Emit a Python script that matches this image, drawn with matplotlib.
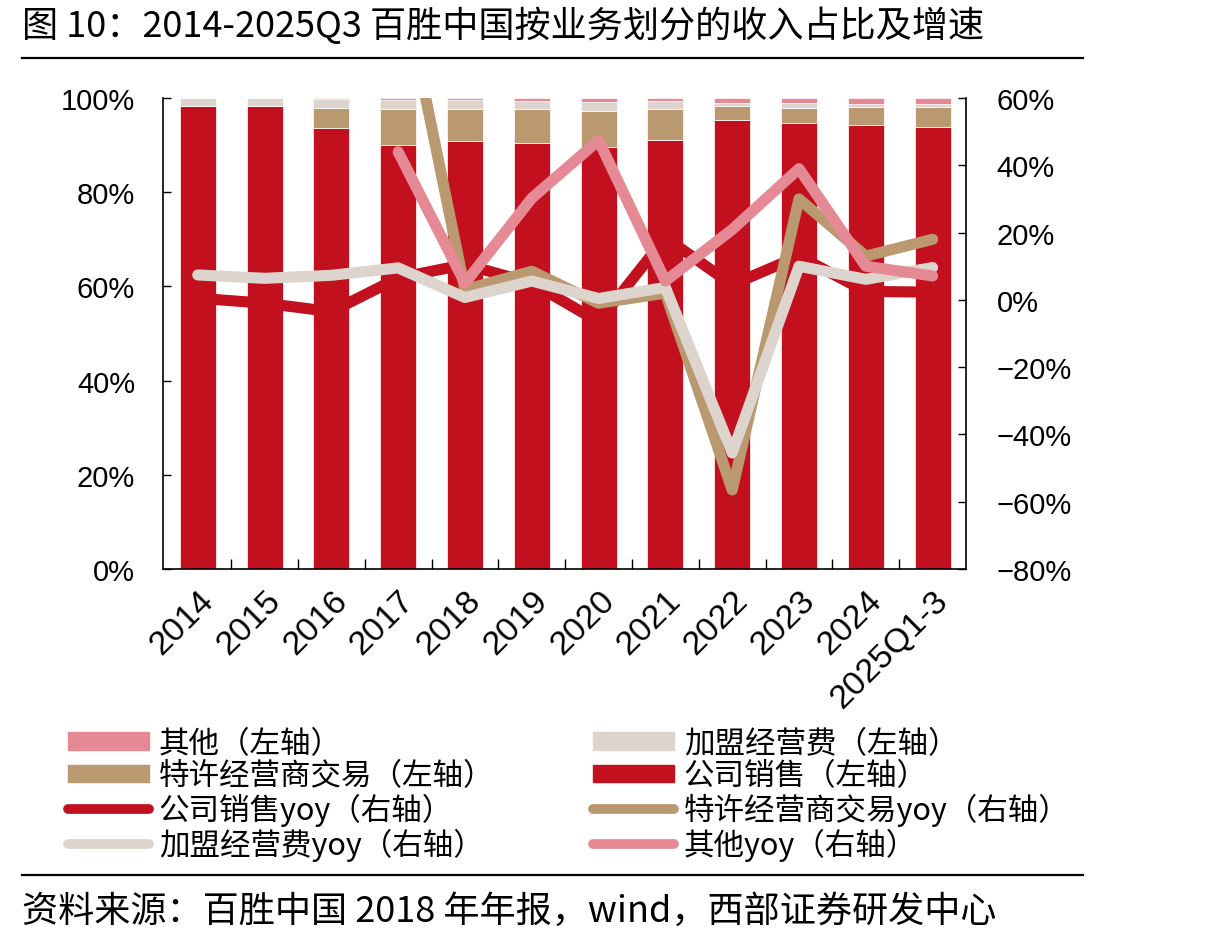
import matplotlib
matplotlib.use("Agg")
import matplotlib.pyplot as plt
from matplotlib.patches import Patch
from matplotlib.lines import Line2D
import numpy as np

plt.rcParams['font.family'] = ['Noto Sans CJK SC', 'DejaVu Sans']

# ---------------- data ----------------
categories = ["2014", "2015", "2016", "2017", "2018", "2019", "2020",
              "2021", "2022", "2023", "2024", "2025Q1-3"]

# revenue share (%), left axis
company_sales = [98.4, 98.2, 93.6, 90.0, 90.8, 90.4, 89.5, 91.0, 95.3, 94.6, 94.2, 93.8]
franchise_trade = [0.0, 0.0, 4.2, 7.6, 6.9, 7.3, 7.7, 6.6, 2.9, 3.3, 3.8, 4.2]
franchise_fee = [1.6, 1.8, 1.9, 2.0, 1.9, 1.7, 1.9, 1.7, 0.8, 1.0, 0.8, 0.8]
other = [0.0, 0.0, 0.3, 0.4, 0.4, 0.6, 0.9, 0.7, 1.0, 1.1, 1.2, 1.2]

# yoy growth (%), right axis
company_sales_yoy = [0.5, -1.0, -3.5, 6.5, 10.5, 5.0, -6.5, 18.5, 4.5, 13.0, 2.5, 2.3]
franchise_trade_yoy = [np.nan, np.nan, np.nan, 100.0, 3.0, 8.5, -1.0, 2.0, -56.5, 30.0, 13.0, 18.0]
franchise_fee_yoy = [7.4, 6.4, 7.3, 9.5, 0.7, 5.6, 0.4, 3.7, -45.5, 10.0, 6.1, 9.6]
other_yoy = [np.nan, np.nan, np.nan, 44.0, 5.0, 30.2, 47.4, 5.6, 20.9, 39.0, 10.0, 7.1]

left_ticks = [0, 20, 40, 60, 80, 100]
right_ticks = [-80, -60, -40, -20, 0, 20, 40, 60]

title = "图 10：2014-2025Q3 百胜中国按业务划分的收入占比及增速"
source = "资料来源：百胜中国 2018 年年报，wind，西部证券研发中心"

C_RED = "#C3101E"
C_TAN = "#BA9870"
C_BEIGE = "#DCD4CD"
C_PINK = "#E58A94"

# ---------------- figure ----------------
fig = plt.figure(figsize=(12.26, 9.45), dpi=100)
W, H = 1226, 945
ax = fig.add_axes([163 / W, 1 - 570 / H, (966 - 163) / W, (570 - 99) / H])

x = np.arange(len(categories))
bw = 0.54
cs = np.array(company_sales)
ft = np.array(franchise_trade)
ff = np.array(franchise_fee)
ot = np.array(other)
ax.bar(x, cs, bw, color=C_RED, edgecolor="white", linewidth=0.5, zorder=2)
ax.bar(x, ft, bw, bottom=cs, color=C_TAN, edgecolor="white", linewidth=0.5, zorder=2)
ax.bar(x, ff, bw, bottom=cs + ft, color=C_BEIGE, edgecolor="white", linewidth=0.5, zorder=2)
ax.bar(x, ot, bw, bottom=cs + ft + ff, color=C_PINK, edgecolor="white", linewidth=0.5, zorder=2)

ax.set_xlim(-0.52, len(categories) - 0.5)
ax.set_ylim(0, 100)
ax.set_yticks(left_ticks)
ax.set_yticklabels([f"{t}%" for t in left_ticks], fontfamily="Liberation Sans", fontsize=21)
ax.set_xticks(x)
ax.set_xticklabels(categories, rotation=45, ha="right", rotation_mode="anchor",
                   fontfamily="Liberation Sans", fontsize=24.5)
ax.tick_params(axis="x", which="major", length=0, pad=11)
ax.set_xticks(np.arange(len(categories) - 1) + 0.5, minor=True)
ax.tick_params(axis="x", which="minor", direction="in", length=7, width=1)
ax.tick_params(axis="y", direction="in", length=6, width=1, pad=20)
for s in ["top", "right"]:
    ax.spines[s].set_visible(False)
ax.spines["left"].set_linewidth(1.2)
ax.spines["bottom"].set_linewidth(1.2)

ax2 = ax.twinx()
lw = 8
kw = dict(linewidth=lw, solid_capstyle="round", solid_joinstyle="round")
ax2.plot(x, company_sales_yoy, color=C_RED, zorder=3, **kw)
ax2.plot(x, franchise_trade_yoy, color=C_TAN, zorder=4, **kw)
ax2.plot(x, franchise_fee_yoy, color=C_BEIGE, zorder=5, **kw)
ax2.plot(x, other_yoy, color=C_PINK, zorder=6, **kw)
ax2.set_ylim(-80, 60)
ax2.set_yticks(right_ticks)
ax2.set_yticklabels([f"{t}%" if t >= 0 else f"\u2212{abs(t)}%" for t in right_ticks],
                    fontfamily="Liberation Sans", fontsize=21)
ax2.tick_params(axis="y", direction="in", length=6, width=1, pad=22)
for s in ["top", "left", "bottom"]:
    ax2.spines[s].set_visible(False)
ax2.spines["right"].set_linewidth(1.2)

# ---------------- title / source ----------------
fig.text(22 / W, 1 - 26 / H, title, fontsize=26, va="center", ha="left")
fig.text(22 / W, 1 - 912 / H, source, fontsize=26, va="center", ha="left")
for yy in (59, 876):
    fig.add_artist(Line2D([22 / W, 1083 / W], [1 - yy / H, 1 - yy / H],
                          color="black", linewidth=1.6, transform=fig.transFigure))

# ---------------- legends ----------------
h1 = [Patch(color=C_PINK), Patch(color=C_TAN),
      Line2D([], [], color=C_RED, linewidth=7, solid_capstyle="round"),
      Line2D([], [], color=C_BEIGE, linewidth=7, solid_capstyle="round")]
l1 = ["其他（左轴）", "特许经营商交易（左轴）", "公司销售yoy（右轴）", "加盟经营费yoy（右轴）"]
h2 = [Patch(color=C_BEIGE), Patch(color=C_RED),
      Line2D([], [], color=C_TAN, linewidth=7, solid_capstyle="round"),
      Line2D([], [], color=C_PINK, linewidth=7, solid_capstyle="round")]
l2 = ["加盟经营费（左轴）", "公司销售（左轴）", "特许经营商交易yoy（右轴）", "其他yoy（右轴）"]

lkw = dict(loc="upper left", frameon=False, fontsize=22, handlelength=2.65,
           handleheight=0.5, handletextpad=0.32, labelspacing=0.05,
           borderaxespad=0, borderpad=0)
leg1 = fig.legend(h1, l1, bbox_to_anchor=(68 / W, 1 - 729 / H), **lkw)
leg2 = fig.legend(h2, l2, bbox_to_anchor=(593 / W, 1 - 729 / H), **lkw)

fig.savefig("out.png", dpi=100)
